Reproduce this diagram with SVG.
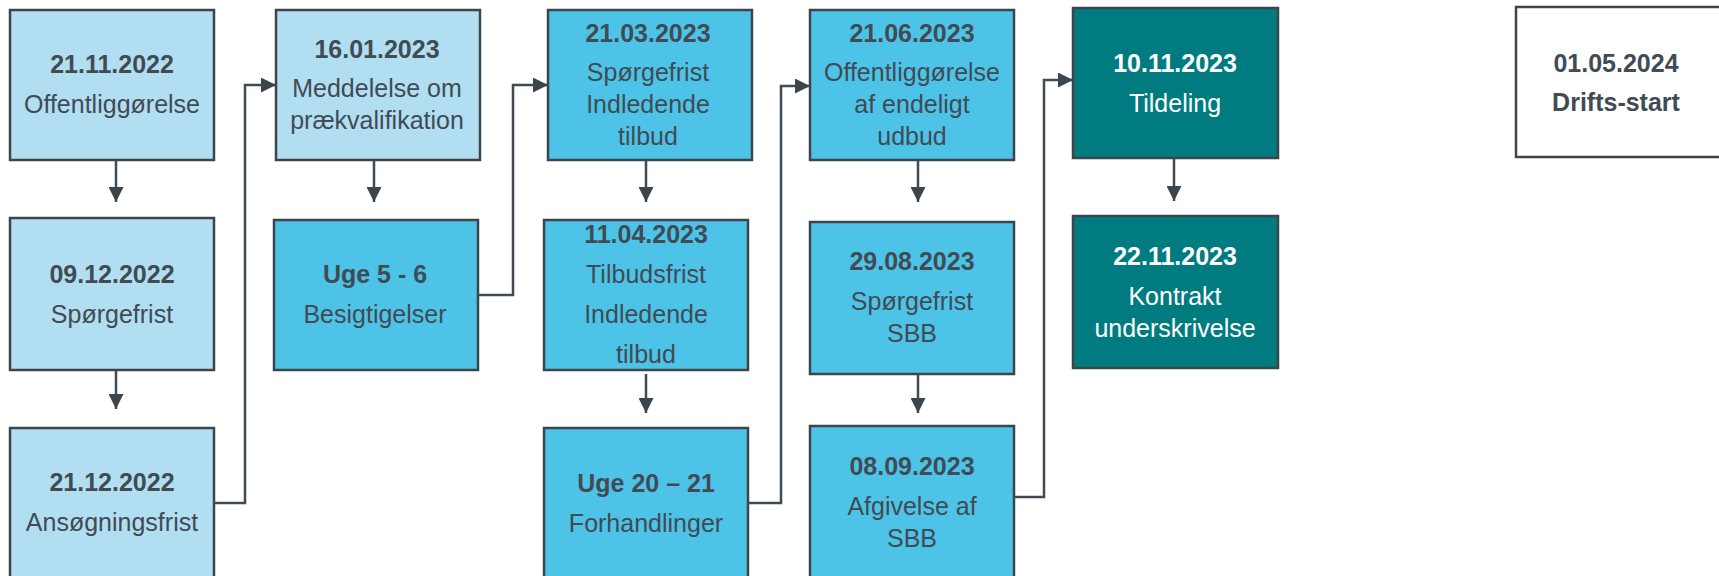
<svg xmlns="http://www.w3.org/2000/svg" width="1719" height="576" viewBox="0 0 1719 576">
<defs>
<style>
.box{stroke:#3c454c;stroke-width:2.5}
.l1{fill:#b1def1}
.l2{fill:#4dc3e8}
.l3{fill:#007c80}
.l4{fill:#ffffff}
text{font-family:"Liberation Sans",Arial,sans-serif;font-size:25px;fill:#414b53;text-anchor:middle}
.b{font-weight:bold}
.w{fill:#ffffff}
.con{fill:none;stroke:#414b53;stroke-width:2.5}
</style>
<marker id="ah" markerUnits="userSpaceOnUse" viewBox="0 0 16 16" markerWidth="16" markerHeight="15" refX="16" refY="8" orient="auto">
<path d="M0,0 L16,8 L0,16 z" fill="#3c454c"/>
</marker>
</defs>
<rect width="1719" height="576" fill="#ffffff"/>

<g id="n1"><rect class="box l1" x="10" y="10" width="204" height="150"/>
<text class="b" x="112" y="73">21.11.2022</text><text x="112" y="113">Offentliggørelse</text></g>
<g id="n2"><rect class="box l1" x="10" y="218" width="204" height="152"/>
<text class="b" x="112" y="283">09.12.2022</text><text x="112" y="323">Spørgefrist</text></g>
<g id="n3"><rect class="box l1" x="10" y="428" width="204" height="170"/>
<text class="b" x="112" y="491">21.12.2022</text><text x="112" y="531">Ansøgningsfrist</text></g>

<g id="n4"><rect class="box l1" x="276" y="10" width="204" height="150"/>
<text class="b" x="377" y="58">16.01.2023</text><text x="377" y="97">Meddelelse om</text><text x="377" y="129">prækvalifikation</text></g>
<g id="n5"><rect class="box l2" x="274" y="220" width="204" height="150"/>
<text class="b" x="375" y="283">Uge 5 - 6</text><text x="375" y="323">Besigtigelser</text></g>

<g id="n6"><rect class="box l2" x="548" y="10" width="204" height="150"/>
<text class="b" x="648" y="42">21.03.2023</text><text x="648" y="81">Spørgefrist</text><text x="648" y="113">Indledende</text><text x="648" y="145">tilbud</text></g>
<g id="n7"><rect class="box l2" x="544" y="220" width="204" height="150"/>
<text class="b" x="646" y="243">11.04.2023</text><text x="646" y="283">Tilbudsfrist</text><text x="646" y="323">Indledende</text><text x="646" y="363">tilbud</text></g>
<g id="n8"><rect class="box l2" x="544" y="428" width="204" height="170"/>
<text class="b" x="646" y="492">Uge 20 – 21</text><text x="646" y="532">Forhandlinger</text></g>

<g id="n9"><rect class="box l2" x="810" y="10" width="204" height="150"/>
<text class="b" x="912" y="42">21.06.2023</text><text x="912" y="81">Offentliggørelse</text><text x="912" y="113">af endeligt</text><text x="912" y="145">udbud</text></g>
<g id="n10"><rect class="box l2" x="810" y="222" width="204" height="152"/>
<text class="b" x="912" y="270">29.08.2023</text><text x="912" y="310">Spørgefrist</text><text x="912" y="342">SBB</text></g>
<g id="n11"><rect class="box l2" x="810" y="426" width="204" height="172"/>
<text class="b" x="912" y="475">08.09.2023</text><text x="912" y="515">Afgivelse af</text><text x="912" y="547">SBB</text></g>

<g id="n12"><rect class="box l3" x="1073" y="8" width="205" height="150"/>
<text class="b w" x="1175" y="72">10.11.2023</text><text class="w" x="1175" y="112">Tildeling</text></g>
<g id="n13"><rect class="box l3" x="1073" y="216" width="205" height="152"/>
<text class="b w" x="1175" y="265">22.11.2023</text><text class="w" x="1175" y="305">Kontrakt</text><text class="w" x="1175" y="337">underskrivelse</text></g>

<g id="n14"><rect class="box l4" x="1516" y="7" width="206" height="150"/>
<text class="b" x="1616" y="72">01.05.2024</text><text class="b" x="1616" y="111">Drifts-start</text></g>

<g id="connectors">
<path class="con" marker-end="url(#ah)" d="M116,161 V202"/>
<path class="con" marker-end="url(#ah)" d="M116,371 V409"/>
<path class="con" marker-end="url(#ah)" d="M374,161 V202"/>
<path class="con" marker-end="url(#ah)" d="M646,161 V202"/>
<path class="con" marker-end="url(#ah)" d="M646,374 V413"/>
<path class="con" marker-end="url(#ah)" d="M918,161 V202"/>
<path class="con" marker-end="url(#ah)" d="M918,375 V413"/>
<path class="con" marker-end="url(#ah)" d="M1174,159 V201"/>
<path class="con" marker-end="url(#ah)" d="M214,503 H245 V85 H276"/>
<path class="con" marker-end="url(#ah)" d="M478,295 H513 V85 H548"/>
<path class="con" marker-end="url(#ah)" d="M748,503 H781 V86 H810"/>
<path class="con" marker-end="url(#ah)" d="M1014,497 H1044 V80 H1073"/>
</g>
</svg>
